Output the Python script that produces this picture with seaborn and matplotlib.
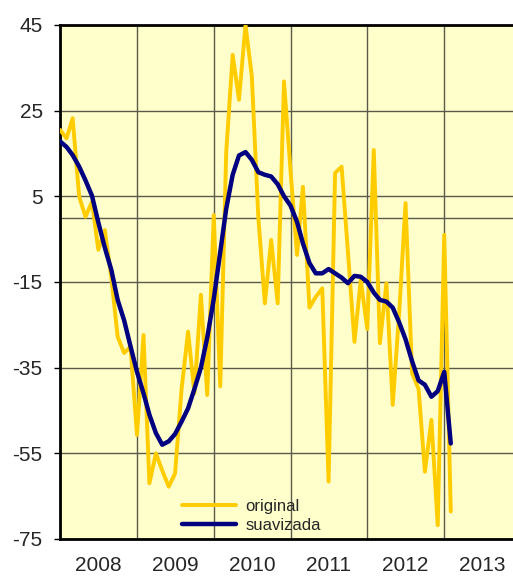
import pandas as pd
import matplotlib
matplotlib.use('Agg')
import matplotlib.pyplot as plt
import matplotlib.dates as mdates
import seaborn as sns

# monthly series, Jan 2008 - Feb 2013
start_month = '2008-01-01'
original = [20.5, 18.5, 23.2, 4.9, 0.2, 3.7, -7.5, -2.9, -14.0, -27.8,
            -31.6, -30.1, -50.7, -27.4, -62.0, -55.0, -59.0, -62.8, -59.7, -40.0,
            -26.6, -41.0, -18.0, -41.4, 0.6, -39.4, 15.0, 38.0, 27.5, 45.0,
            33.0, 0.0, -20.0, -5.2, -20.0, 31.8, 11.0, -8.7, 7.2, -21.0,
            -18.5, -16.5, -61.6, 10.4, 11.9, -8.0, -29.0, -14.5, -26.0, 15.8,
            -29.3, -15.3, -43.7, -22.0, 3.4, -36.3, -40.0, -59.3, -47.2, -71.8,
            -4.0, -68.6]
suavizada = [17.8, 16.5, 14.6, 11.9, 8.7, 5.1, -1.1, -7.0, -12.2, -19.2,
             -24.0, -30.0, -36.0, -41.0, -46.0, -50.3, -53.0, -52.2, -50.5, -47.6,
             -44.5, -40.0, -35.0, -28.0, -19.0, -8.0, 2.0, 10.0, 14.5, 15.3,
             13.5, 10.6, 10.0, 9.6, 7.8, 5.0, 2.8, -1.0, -6.0, -10.6,
             -13.0, -13.0, -12.0, -13.0, -14.0, -15.3, -13.6, -13.8, -15.0, -17.5,
             -19.2, -19.6, -21.0, -24.5, -28.4, -33.5, -38.0, -39.0, -41.8, -40.5,
             -36.0, -52.7]
y_ticks = [45, 25, 5, -15, -35, -55, -75]

dates = pd.date_range(start_month, periods=len(original), freq='MS')
df = pd.DataFrame({'fecha': dates, 'original': original, 'suavizada': suavizada})

sns.set_style('white')
plt.rcParams['font.family'] = ['Liberation Sans', 'DejaVu Sans']
plt.rcParams['axes.unicode_minus'] = False

fig = plt.figure(figsize=(5.13, 5.81), dpi=100)
ax = fig.add_axes([0.117, 0.0723, 0.8986, 0.885])
ax.set_facecolor('#FFFFCC')

sns.lineplot(data=df, x='fecha', y='original', ax=ax, color='#FFCC00',
             linewidth=2.8, label='original', zorder=3,
             solid_joinstyle='round', solid_capstyle='round')
sns.lineplot(data=df, x='fecha', y='suavizada', ax=ax, color='#000080',
             linewidth=3.2, label='suavizada', zorder=4,
             solid_joinstyle='round', solid_capstyle='round')

ax.set_ylim(-75, 45)
ax.set_yticks(y_ticks)
ax.set_xlim(pd.Timestamp('2008-01-01'), pd.Timestamp('2014-01-01'))

ax.xaxis.set_major_locator(mdates.YearLocator())
ax.xaxis.set_major_formatter(plt.NullFormatter())
ax.xaxis.set_minor_locator(mdates.MonthLocator(bymonth=7, bymonthday=1))
ax.xaxis.set_minor_formatter(mdates.DateFormatter('%Y'))

ax.grid(True, axis='both', which='major', color='#5a5a48', linewidth=1.0)
ax.axhline(0, color='#5a5a48', linewidth=1.0, zorder=1)
ax.set_axisbelow(True)

ax.tick_params(axis='y', which='major', left=True, length=4.5, width=1,
               pad=8, labelsize=15, color='black')
ax.tick_params(axis='x', which='major', bottom=False, length=0)
ax.tick_params(axis='x', which='minor', bottom=False, length=0, pad=12,
               labelsize=15)

for side in ['left', 'bottom', 'top', 'right']:
    ax.spines[side].set_visible(True)
    ax.spines[side].set_color('black')
    ax.spines[side].set_linewidth(2)

ax.set_xlabel('')
ax.set_ylabel('')

ax.legend(loc='lower left', bbox_to_anchor=(0.265, 0.012), frameon=False,
          fontsize=12, handlelength=3.2, handletextpad=0.6, labelspacing=0.25,
          borderpad=0, borderaxespad=0)

fig.savefig('out.png', dpi=100, facecolor='white')
